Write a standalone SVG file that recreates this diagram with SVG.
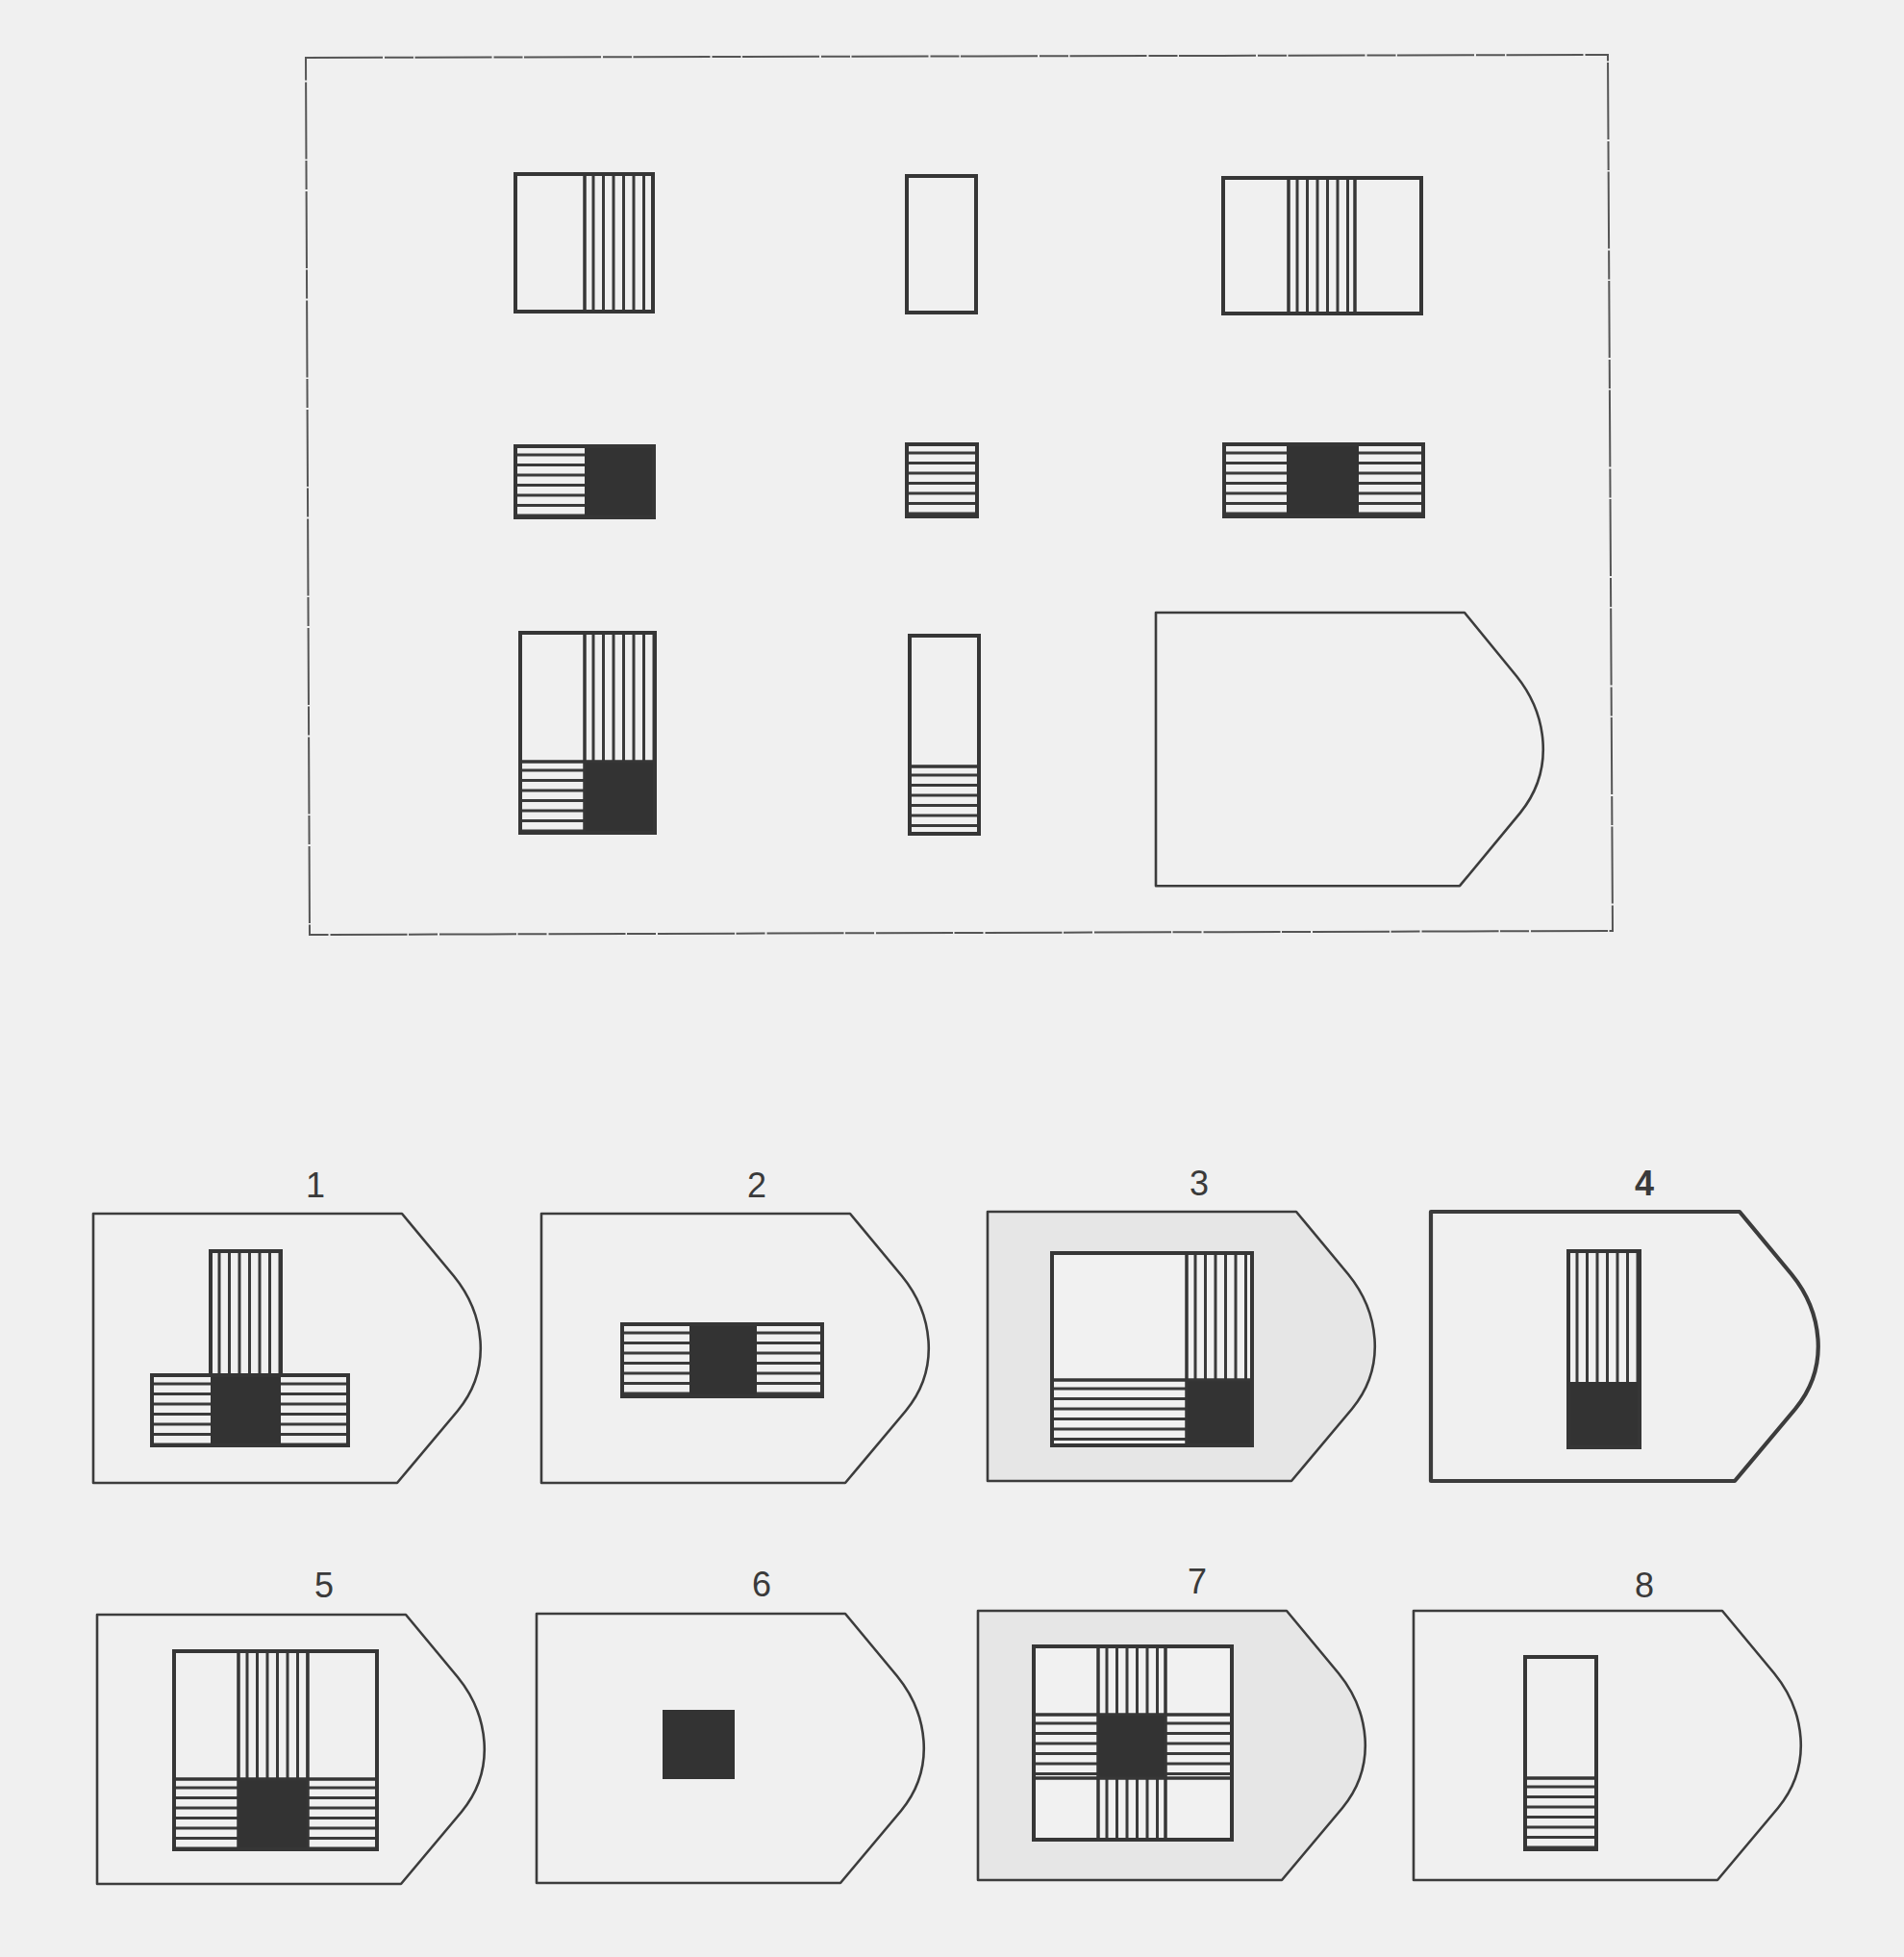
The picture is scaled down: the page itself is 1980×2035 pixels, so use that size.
<svg xmlns="http://www.w3.org/2000/svg" xmlns:xlink="http://www.w3.org/1999/xlink" width="1980" height="2035" viewBox="0 0 1980 2035">
<style>
.bg{fill:#f0f0f0}
.frame{fill:none;stroke:#555555;stroke-width:2;stroke-dasharray:80 2 30 1.5}
.tag{fill:#f0f0f0;stroke:#3c3c3c;stroke-width:2.6;stroke-linejoin:round}
.tag.gray{fill:#e6e6e6}
.tag.thick{stroke-width:4.2}
.box{fill:none;stroke:#363636;stroke-width:4}
.light{fill:#f1f1f1}
.div{stroke:#363636;stroke-width:3.5}
.blk{fill:#333333}
.st{stroke:#3a3a3a;stroke-dasharray:0 7.5 3 0;fill:none}
.lbl{font-family:"Liberation Sans",Arial,sans-serif;font-size:36px;fill:#3a3a3a;text-anchor:middle}
</style>
<defs>
<path id="tagshape" d="M0,0 H321 L375,65 C406,103 416,160 379,205 L316,280 H0 Z"/>
</defs>
<rect class="bg" x="0" y="0" width="1980" height="2035"/>

<g id="matrix-frame">
<polygon class="frame" points="318,60 1672,57 1677,968 322,972"/>
</g>

<g id="cell-r1c1">
<line class="st" x1="608" y1="252.5" x2="679" y2="252.5" stroke-width="143"/>
<line class="div" x1="608" y1="181" x2="608" y2="324"/>
<rect class="box" x="536" y="181" width="143" height="143"/>
</g>
<g id="cell-r1c2">
<rect class="box" x="943" y="183" width="72" height="142"/>
</g>
<g id="cell-r1c3">
<line class="st" x1="1340" y1="255.5" x2="1409" y2="255.5" stroke-width="141"/>
<line class="div" x1="1340" y1="185" x2="1340" y2="326"/>
<line class="div" x1="1409" y1="185" x2="1409" y2="326"/>
<rect class="box" x="1272" y="185" width="206" height="141"/>
</g>

<g id="cell-r2c1">
<line class="st" x1="572" y1="464" x2="572" y2="538" stroke-width="72"/>
<rect class="blk" x="608" y="464" width="72" height="74"/>
<rect class="box" x="536" y="464" width="144" height="74"/>
</g>
<g id="cell-r2c2">
<line class="st" x1="979.5" y1="462" x2="979.5" y2="537" stroke-width="73"/>
<rect class="box" x="943" y="462" width="73" height="75"/>
</g>
<g id="cell-r2c3">
<line class="st" x1="1305.5" y1="462" x2="1305.5" y2="537" stroke-width="65"/>
<line class="st" x1="1446.5" y1="462" x2="1446.5" y2="537" stroke-width="67"/>
<rect class="blk" x="1338" y="462" width="75" height="75"/>
<rect class="box" x="1273" y="462" width="207" height="75"/>
</g>

<g id="cell-r3c1">
<line class="st" x1="608" y1="725" x2="681" y2="725" stroke-width="134"/>
<line class="st" x1="574.5" y1="792" x2="574.5" y2="866" stroke-width="67"/>
<rect class="blk" x="608" y="792" width="73" height="74"/>
<line class="div" x1="608" y1="658" x2="608" y2="866"/>
<line class="div" x1="541" y1="792" x2="681" y2="792"/>
<rect class="box" x="541" y="658" width="140" height="208"/>
</g>
<g id="cell-r3c2">
<line class="st" x1="982" y1="797" x2="982" y2="867" stroke-width="72"/>
<line class="div" x1="946" y1="797" x2="1018" y2="797"/>
<rect class="box" x="946" y="661" width="72" height="206"/>
</g>
<g id="cell-r3c3-answer">
<use xlink:href="#tagshape" href="#tagshape" class="tag" transform="translate(1202,637) scale(1,1.015)"/>
</g>

<g id="option-1">
<text class="lbl" x="328" y="1245">1</text>
<use xlink:href="#tagshape" href="#tagshape" class="tag" transform="translate(97,1262)"/>
<line class="st" x1="219" y1="1365.5" x2="292" y2="1365.5" stroke-width="129"/>
<line class="st" x1="188.5" y1="1430" x2="188.5" y2="1503" stroke-width="61"/>
<line class="st" x1="327" y1="1430" x2="327" y2="1503" stroke-width="70"/>
<rect class="blk" x="219" y="1430" width="73" height="73"/>
<path class="box" d="M219,1301 H292 V1430 H362 V1503 H158 V1430 H219 Z M219,1430 H292"/>
</g>

<g id="option-2">
<text class="lbl" x="787" y="1245">2</text>
<use xlink:href="#tagshape" href="#tagshape" class="tag" transform="translate(563,1262)"/>
<line class="st" x1="682" y1="1377" x2="682" y2="1452" stroke-width="70"/>
<line class="st" x1="821" y1="1377" x2="821" y2="1452" stroke-width="68"/>
<rect class="blk" x="717" y="1377" width="70" height="75"/>
<rect class="box" x="647" y="1377" width="208" height="75"/>
</g>

<g id="option-3">
<text class="lbl" x="1247" y="1243">3</text>
<use xlink:href="#tagshape" href="#tagshape" class="tag gray" transform="translate(1027,1260)"/>
<rect class="light" x="1094" y="1303" width="208" height="200"/>
<line class="st" x1="1234" y1="1369" x2="1302" y2="1369" stroke-width="132"/>
<line class="st" x1="1164" y1="1435" x2="1164" y2="1503" stroke-width="140"/>
<rect class="blk" x="1234" y="1435" width="68" height="68"/>
<line class="div" x1="1234" y1="1303" x2="1234" y2="1503"/>
<line class="div" x1="1094" y1="1435" x2="1302" y2="1435"/>
<rect class="box" x="1094" y="1303" width="208" height="200"/>
</g>

<g id="option-4">
<text class="lbl" x="1710" y="1243" font-weight="bold">4</text>
<use xlink:href="#tagshape" href="#tagshape" class="tag thick" transform="translate(1488,1260)"/>
<line class="st" x1="1631" y1="1369" x2="1705" y2="1369" stroke-width="136"/>
<rect class="blk" x="1631" y="1437" width="74" height="68"/>
<rect class="box" x="1631" y="1301" width="74" height="204"/>
</g>

<g id="option-5">
<text class="lbl" x="337" y="1661">5</text>
<use xlink:href="#tagshape" href="#tagshape" class="tag" transform="translate(101,1679)"/>
<line class="st" x1="248" y1="1783.5" x2="320" y2="1783.5" stroke-width="133"/>
<line class="st" x1="214.5" y1="1850" x2="214.5" y2="1923" stroke-width="67"/>
<line class="st" x1="356" y1="1850" x2="356" y2="1923" stroke-width="72"/>
<rect class="blk" x="248" y="1850" width="72" height="73"/>
<line class="div" x1="248" y1="1717" x2="248" y2="1923"/>
<line class="div" x1="320" y1="1717" x2="320" y2="1923"/>
<line class="div" x1="181" y1="1850" x2="392" y2="1850"/>
<rect class="box" x="181" y="1717" width="211" height="206"/>
</g>

<g id="option-6">
<text class="lbl" x="792" y="1660">6</text>
<use xlink:href="#tagshape" href="#tagshape" class="tag" transform="translate(558,1678)"/>
<rect class="blk" x="689" y="1778" width="75" height="72"/>
</g>

<g id="option-7">
<text class="lbl" x="1245" y="1657">7</text>
<use xlink:href="#tagshape" href="#tagshape" class="tag gray" transform="translate(1017,1675)"/>
<rect class="light" x="1075" y="1712" width="206" height="201"/>
<line class="st" x1="1142" y1="1747.5" x2="1212" y2="1747.5" stroke-width="71"/>
<line class="st" x1="1142" y1="1881" x2="1212" y2="1881" stroke-width="64"/>
<line class="st" x1="1108.5" y1="1783" x2="1108.5" y2="1849" stroke-width="67"/>
<line class="st" x1="1246.5" y1="1783" x2="1246.5" y2="1849" stroke-width="69"/>
<rect class="blk" x="1142" y="1783" width="70" height="66"/>
<line class="div" x1="1142" y1="1712" x2="1142" y2="1913"/>
<line class="div" x1="1212" y1="1712" x2="1212" y2="1913"/>
<line class="div" x1="1075" y1="1783" x2="1281" y2="1783"/>
<line class="div" x1="1075" y1="1849" x2="1281" y2="1849"/>
<rect class="box" x="1075" y="1712" width="206" height="201"/>
</g>

<g id="option-8">
<text class="lbl" x="1710" y="1661">8</text>
<use xlink:href="#tagshape" href="#tagshape" class="tag" transform="translate(1470,1675)"/>
<line class="st" x1="1623" y1="1849" x2="1623" y2="1923" stroke-width="74"/>
<line class="div" x1="1586" y1="1849" x2="1660" y2="1849"/>
<rect class="box" x="1586" y="1723" width="74" height="200"/>
</g>
</svg>
